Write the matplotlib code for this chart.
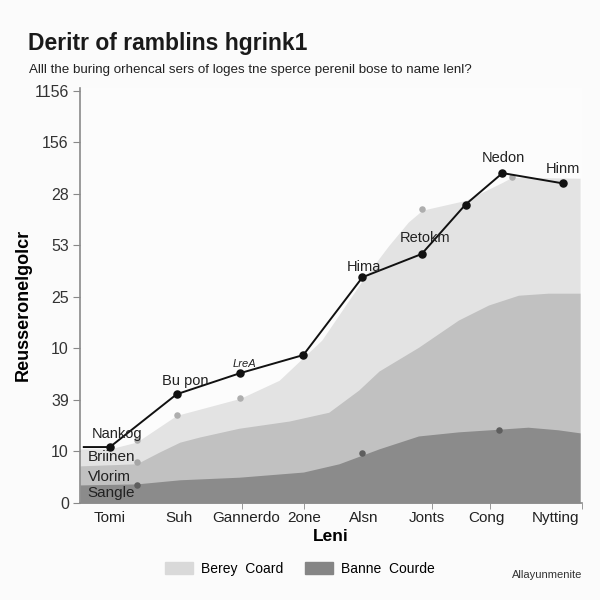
import numpy as np
import matplotlib.pyplot as plt
from matplotlib.patches import Patch

plt.rcParams["font.family"] = ["Liberation Sans", "DejaVu Sans"]

# Categories and tick positions (category units)
categories = ["Tomi", "Suh", "Gannerdo", "2one", "Alsn", "Jonts", "Cong", "Nytting"]
cat_pos = [0, 1.08, 2.14, 3.06, 3.99, 4.98, 5.92, 7.0]
tick_marks = [1.08, 2.07, 3.05, 3.99, 5.07, 5.98, 7.42]
y_labels = ["0", "10", "39", "10", "25", "53", "28", "156", "1156"]

# Stacked area boundaries (top of each layer)
light_x = [-0.47, 0, 0.42, 1.05, 2.05, 2.66, 3.33, 3.97, 4.38, 4.69, 4.91, 5.59, 6.17, 6.32, 7.39]
light_y = [1.05, 1.05, 1.18, 1.70, 2.03, 2.38, 3.16, 4.32, 4.99, 5.45, 5.68, 5.87, 6.22, 6.32, 6.30]

mid_x = [-0.47, 0.42, 0.78, 1.10, 1.41, 2.03, 2.82, 3.44, 3.91, 4.23, 4.85, 5.48, 5.95, 6.42, 6.89, 7.39]
mid_y = [0.72, 0.76, 0.99, 1.18, 1.28, 1.45, 1.59, 1.76, 2.19, 2.56, 3.02, 3.55, 3.84, 4.03, 4.07, 4.07]

dark_x = [-0.47, 0.42, 1.10, 2.03, 3.04, 3.60, 4.23, 4.85, 5.48, 6.10, 6.57, 7.04, 7.39]
dark_y = [0.35, 0.37, 0.45, 0.50, 0.60, 0.76, 1.05, 1.30, 1.38, 1.43, 1.47, 1.42, 1.36]

# Main line
line_x = [-0.41, 0, 1.05, 2.05, 3.04, 3.97, 4.90, 5.59, 6.17, 7.12]
line_y = [1.085, 1.085, 2.11, 2.52, 2.87, 4.38, 4.83, 5.79, 6.40, 6.20]

# Scatter dots on layers
light_dots_x = [0.42, 1.05, 2.05, 4.91, 6.32]
light_dots_y = [1.22, 1.70, 2.03, 5.70, 6.32]
mid_dots_x = [0.42]
mid_dots_y = [0.80]
dark_dots_x = [0.42, 3.97, 6.12]
dark_dots_y = [0.35, 0.97, 1.42]

# Point labels
point_labels = [
    ("Nankog", 0.12, 1.34, 10.5, "normal"),
    ("Bu pon", 1.18, 2.37, 10.5, "normal"),
    ("LreA", 2.12, 2.70, 8, "italic"),
    ("Hima", 4.0, 4.57, 10.5, "normal"),
    ("Retokm", 4.95, 5.15, 10.5, "normal"),
    ("Nedon", 6.19, 6.70, 10.5, "normal"),
    ("Hinm", 7.12, 6.47, 10.5, "normal"),
]
band_labels = [("Briinen", 0.90), ("Vlorim", 0.50), ("Sangle", 0.19)]

fig = plt.figure(figsize=(6, 6), dpi=100, facecolor="#fbfbfb")
ax = fig.add_axes([0.1333, 0.1617, 0.8367, 0.6916])
ax.set_facecolor("#fcfcfc")

ax.fill_between(light_x, 0, light_y, color="#e3e3e3", lw=0, zorder=1)
ax.fill_between(mid_x, 0, mid_y, color="#c1c1c1", lw=0, zorder=2)
ax.fill_between(dark_x, 0, dark_y, color="#8b8b8b", lw=0, zorder=3)

ax.scatter(light_dots_x, light_dots_y, s=22, color="#aeaeae", zorder=4, lw=0)
ax.scatter(mid_dots_x, mid_dots_y, s=22, color="#a6a6a6", zorder=4, lw=0)
ax.scatter(dark_dots_x, dark_dots_y, s=22, color="#5e5e5e", zorder=4, lw=0)

ax.plot(line_x, line_y, color="#111111", lw=1.4, zorder=5)
ax.scatter(line_x[1:], line_y[1:], s=26, color="#111111", zorder=6)

for txt, x, y, fs, style in point_labels:
    ax.text(x, y, txt, ha="center", va="center", fontsize=fs, style=style,
            color="#222222", zorder=7)
for txt, y in band_labels:
    ax.text(-0.35, y, txt, ha="left", va="center", fontsize=11,
            color="#222222", zorder=7)

ax.set_xlim(-0.47, 7.39)
ax.set_ylim(0, 8.05)
ax.set_yticks(range(9))
ax.set_yticklabels(y_labels)
ax.set_xticks(cat_pos)
ax.set_xticklabels(categories)
ax.set_xticks(tick_marks, minor=True)
ax.tick_params(axis="x", which="major", length=0, pad=6, labelsize=11,
               labelcolor="#222222")
ax.tick_params(axis="x", which="minor", length=4, color="#888888")
ax.tick_params(axis="y", length=5, color="#888888", labelsize=11.5,
               labelcolor="#333333", pad=3)

for side in ["top", "right"]:
    ax.spines[side].set_visible(False)
for side in ["left", "bottom"]:
    ax.spines[side].set_color("#8a8a8a")
    ax.spines[side].set_linewidth(1.2)

ax.set_xlabel("Leni", fontsize=12.5, fontweight="bold", labelpad=3)
ax.set_ylabel("Reusseronelgolcr", fontsize=13, fontweight="bold")
ax.yaxis.set_label_coords(-0.096, 0.477)

fig.text(0.047, 0.928, "Deritr of ramblins hgrink1", fontsize=16.5,
         fontweight="bold", color="#1a1a1a", va="center")
fig.text(0.048, 0.883, "Alll the buring orhencal sers of loges tne sperce perenil bose to name lenl?",
         fontsize=9.6, color="#222222", va="center")

# Legend
handles = [Patch(color="#d9d9d9"), Patch(color="#858585")]
fig.legend(handles, ["Berey  Coard", "Banne  Courde"], loc="center",
           bbox_to_anchor=(0.5, 0.052), ncol=2, frameon=False, fontsize=10,
           handlelength=2.0, handleheight=1.0, handletextpad=0.6,
           columnspacing=1.6)
fig.text(0.97, 0.041, "Allayunmenite", fontsize=8, ha="right", va="center",
         color="#333333")

fig.savefig("out.png", dpi=100, facecolor=fig.get_facecolor())
